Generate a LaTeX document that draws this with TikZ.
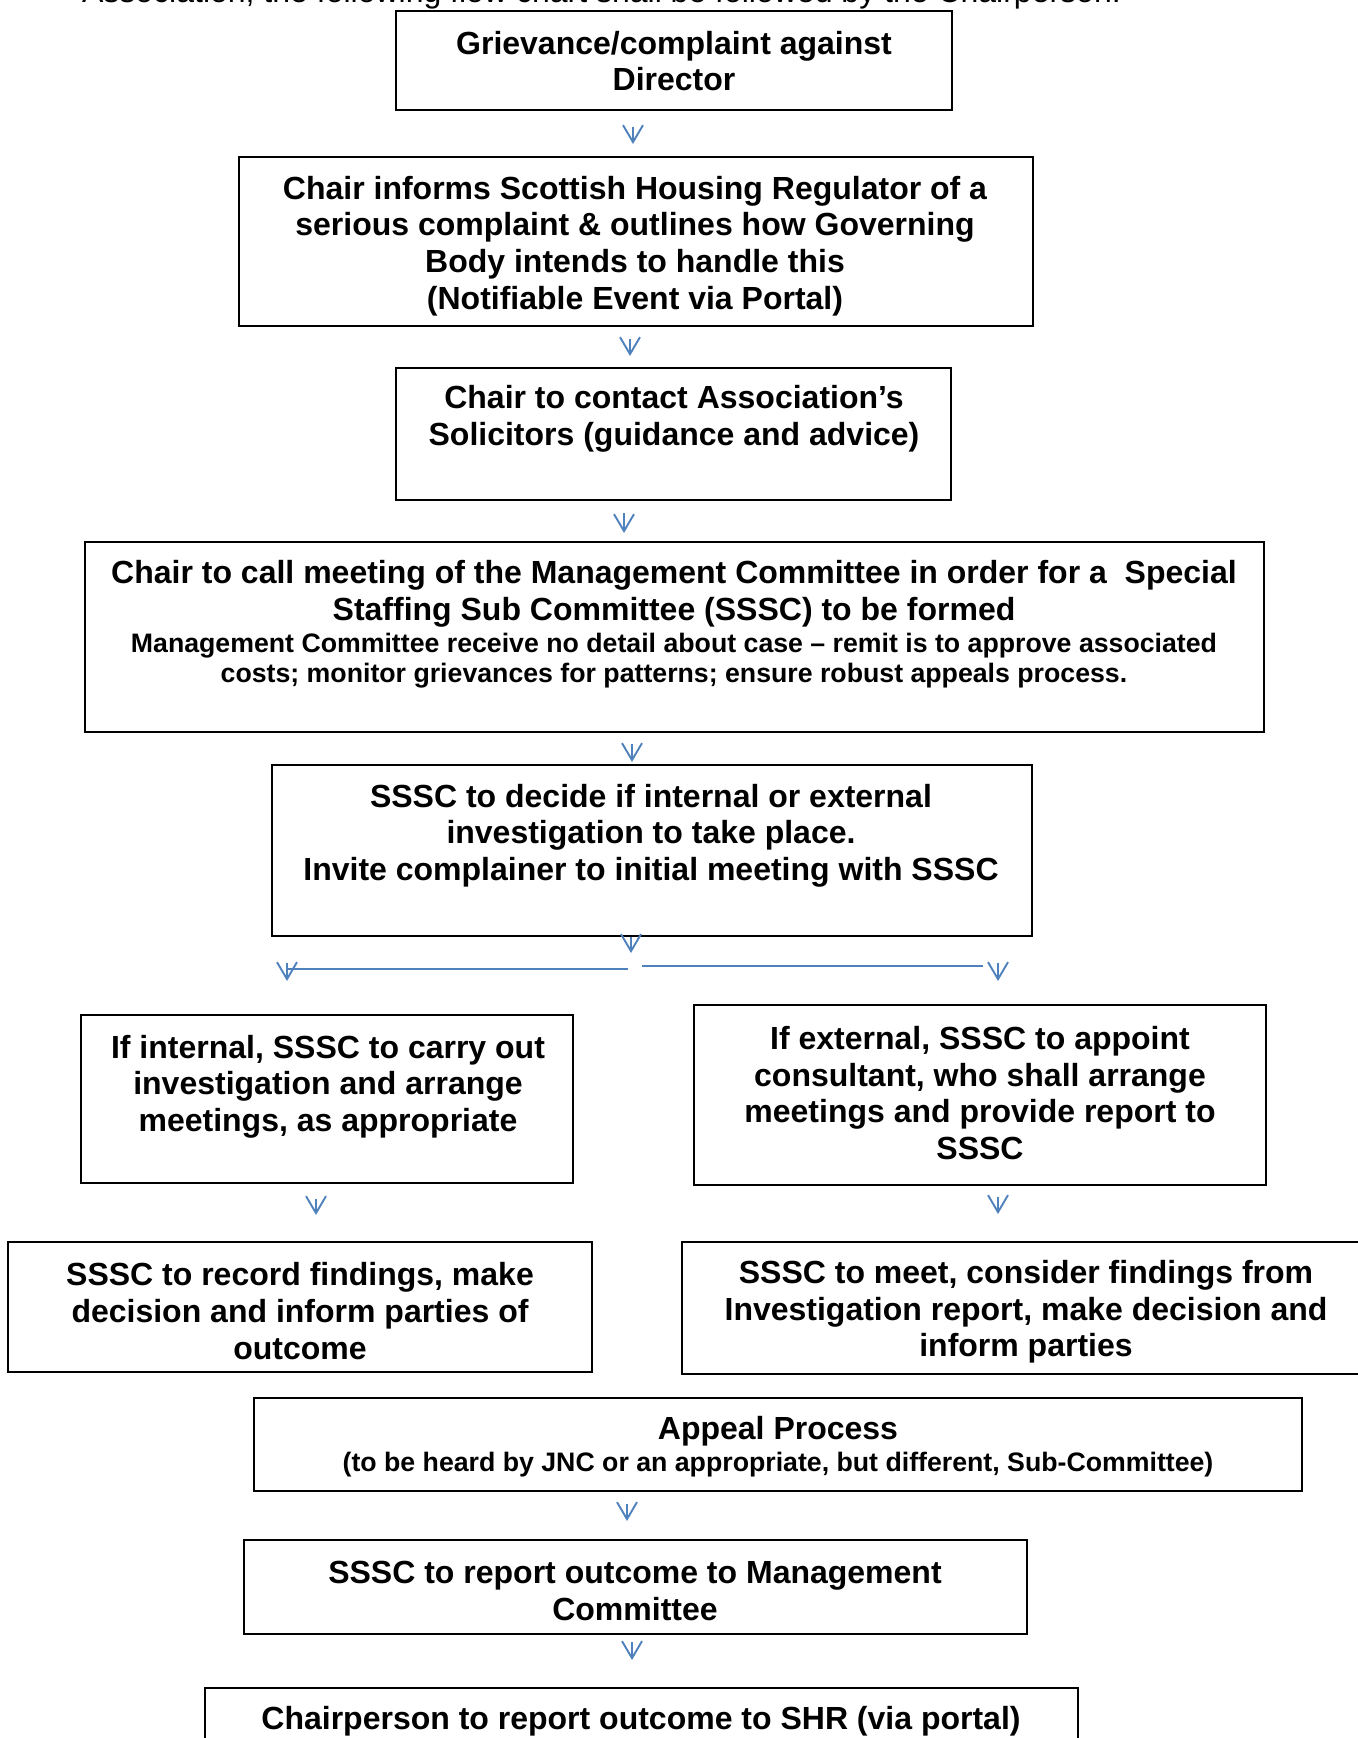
\documentclass[tikz,border=0pt]{standalone}
\usepackage{fontspec}
\setmainfont{Liberation Sans}
\usepackage{tikz}
\usepackage{xcolor}
\usetikzlibrary{positioning, arrows.meta}
\definecolor{flowblue}{RGB}{79, 129, 189}
\tikzset{
    flowbox/.style={draw=black, line width=1pt, inner sep=0pt},
    flowtext/.style={align=center, inner sep=0pt, font=\bfseries\fontsize{16}{18.3}\selectfont},
    notetext/.style={flowtext, font=\bfseries\fontsize{13.35}{15}\selectfont},
    introtext/.style={anchor=base, inner sep=0pt, font=\fontsize{16}{18.3}\selectfont},
    flowarrow/.style={draw=flowblue, line width=0.95pt, -{Straight Barb[length=8.5pt, width=10pt]}},
    flowline/.style={draw=flowblue, line width=0.9pt}
}

\begin{document}
\begin{tikzpicture}[x=0.5pt, y=-0.5pt]
\useasboundingbox (0,0) rectangle (1358,1738);
\clip (0,0) rectangle (1358,1738);

\node[introtext] (intro) at (601.5,3) {Association, the following flow chart shall be followed by the Chairperson.};

% boxes
\node[flowbox, minimum width=278pt, minimum height=49.5pt] (b1) at (674,60.5) {};
\node[flowbox, minimum width=397pt, minimum height=84.5pt] (b2) at (636,241.5) {};
\node[flowbox, minimum width=277.5pt, minimum height=66pt] (b3) at (673.5,434) {};
\node[flowbox, minimum width=589.5pt, minimum height=95pt] (b4) at (674.5,637) {};
\node[flowbox, minimum width=380pt, minimum height=85.5pt] (b5) at (652,850.5) {};
\node[flowbox, minimum width=246pt, minimum height=84pt] (b6) at (327,1099) {};
\node[flowbox, minimum width=286pt, minimum height=90pt] (b7) at (980,1095) {};
\node[flowbox, minimum width=292pt, minimum height=65pt] (b8) at (300,1307) {};
\node[flowbox, minimum width=345pt, minimum height=66pt] (b9) at (1027,1308) {};
\node[flowbox, minimum width=524pt, minimum height=46.5pt] (b10) at (778,1444.5) {};
\node[flowbox, minimum width=391.5pt, minimum height=47pt] (b11) at (635.5,1587) {};
\node[flowbox, minimum width=436.5pt, minimum height=36pt] (b12) at (641.5,1724) {};

% texts
\node[flowtext] (t1) at (674,61) {Grievance/complaint against\\Director};
\node[flowtext] (t2) at (635,246) {Chair informs Scottish Housing Regulator of a\\serious complaint \& outlines how Governing\\Body intends to handle this\\(Notifiable Event via Portal)};
\node[flowtext] (t3) at (674,419) {Chair to contact Association’s\\Solicitors (guidance and advice)};
\node[flowtext] (t4) at (674,593.5) {Chair to call meeting of the Management Committee in order for a\ \ Special\\Staffing Sub Committee (SSSC) to be formed};
\node[notetext] (t4n) at (674,660.5) {Management Committee receive no detail about case -- remit is to approve associated\\costs; monitor grievances for patterns; ensure robust appeals process.};
\node[flowtext] (t5) at (651,835.5) {SSSC to decide if internal or external\\investigation to take place.\\Invite complainer to initial meeting with SSSC};
\node[flowtext] (t6) at (328,1086.5) {If internal, SSSC to carry out\\investigation and arrange\\meetings, as appropriate};
\node[flowtext] (t7) at (980,1093) {If external, SSSC to appoint\\consultant, who shall arrange\\meetings and provide report to\\SSSC};
\node[flowtext] (t8) at (300,1311) {SSSC to record findings, make\\decision and inform parties of\\outcome};
\node[flowtext] (t9) at (1026,1312) {SSSC to meet, consider findings from\\Investigation report, make decision and\\inform parties};
\node[flowtext] (t10) at (778,1431) {Appeal Process};
\node[notetext] (t10n) at (778,1464.5) {(to be heard by JNC or an appropriate, but different, Sub-Committee)};
\node[flowtext] (t11) at (635,1591) {SSSC to report outcome to Management\\Committee};
\node[flowtext] (t12) at (641,1721) {Chairperson to report outcome to SHR (via portal)};

% arrows
\foreach \n/\x/\ya/\yb in {1/633/127/144, 2/630/339/356, 3/624/513/533, 4/632/744/762,
    5/631/937/953, L/287/963/981, R/998/963/981, 6/316/1199/1215, 7/998/1197/1214,
    8/627/1504/1521, 9/632/1642/1660}
{
    \coordinate (s\n) at (\x,\ya);
    \coordinate (e\n) at (\x,\yb);
    \draw[flowarrow] (s\n) -- (e\n);
}
\coordinate (jL) at (287,969);
\coordinate (kL) at (628,969);
\coordinate (jR) at (642,966);
\coordinate (kR) at (983,966);
\draw[flowline] (jL) -- (kL);
\draw[flowline] (jR) -- (kR);
\end{tikzpicture}
\end{document}
